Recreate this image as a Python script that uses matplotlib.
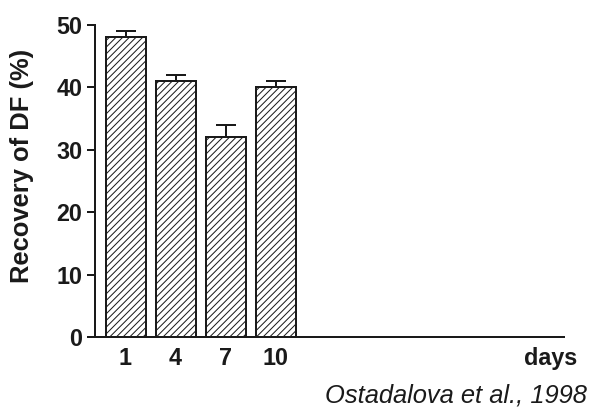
import matplotlib
matplotlib.use('Agg')
import matplotlib.pyplot as plt

# Recovery of DF after treatment, by day
days = ['1', '4', '7', '10']
recovery = [48, 41, 32, 40]
recovery_err = [1, 1, 2, 1]

DPI = 80
plt.rcParams['font.family'] = ['Liberation Sans', 'DejaVu Sans']
plt.rcParams['hatch.linewidth'] = 0.9
plt.rcParams['hatch.color'] = '#222222'

fig = plt.figure(figsize=(591 / DPI, 412 / DPI), dpi=DPI)
ax = fig.add_axes([95 / 591, 1 - 337 / 412, 469 / 591, 312 / 412])

x = list(range(len(days)))
ax.bar(x, recovery, width=0.8, color='white', edgecolor='#1a1a1a',
       linewidth=1.8, hatch='////', zorder=2)
ax.errorbar(x, recovery, yerr=[[0] * len(x), recovery_err], fmt='none',
            ecolor='#1a1a1a', elinewidth=1.8, capsize=9, capthick=1.8, zorder=1)

ax.set_xlim(-0.61, 8.77)
ax.set_ylim(0, 50)
ax.set_xticks(x)
ax.set_xticklabels(days)
ax.set_yticks(range(0, 51, 10))

for side in ['top', 'right']:
    ax.spines[side].set_visible(False)
for side in ['left', 'bottom']:
    ax.spines[side].set_linewidth(1.8)
    ax.spines[side].set_color('#1a1a1a')

ax.tick_params(axis='y', direction='out', length=7.2, width=1.8,
               pad=4, labelsize=21, color='#1a1a1a')
ax.tick_params(axis='x', length=0, pad=9, labelsize=21)
for lbl in ax.get_xticklabels() + ax.get_yticklabels():
    lbl.set_fontweight('bold')
    lbl.set_color('#1a1a1a')

# unit label sits in the tick label row at the far right
ax.annotate('days', xy=(8.51, 0), xytext=(0, -9), textcoords='offset points',
            ha='center', va='top', fontsize=21, fontweight='bold', color='#1a1a1a')

fig.text(22 / 591, 1 - 166 / 412, 'Recovery of DF (%)', rotation=90,
         ha='center', va='center', fontsize=23, fontweight='bold', color='#1a1a1a')
fig.text(587 / 591, 1 - 395 / 412, 'Ostadalova et al., 1998', ha='right',
         va='center', fontsize=23, style='italic', color='#1a1a1a')

fig.savefig('out.png', dpi=DPI, facecolor='white')
